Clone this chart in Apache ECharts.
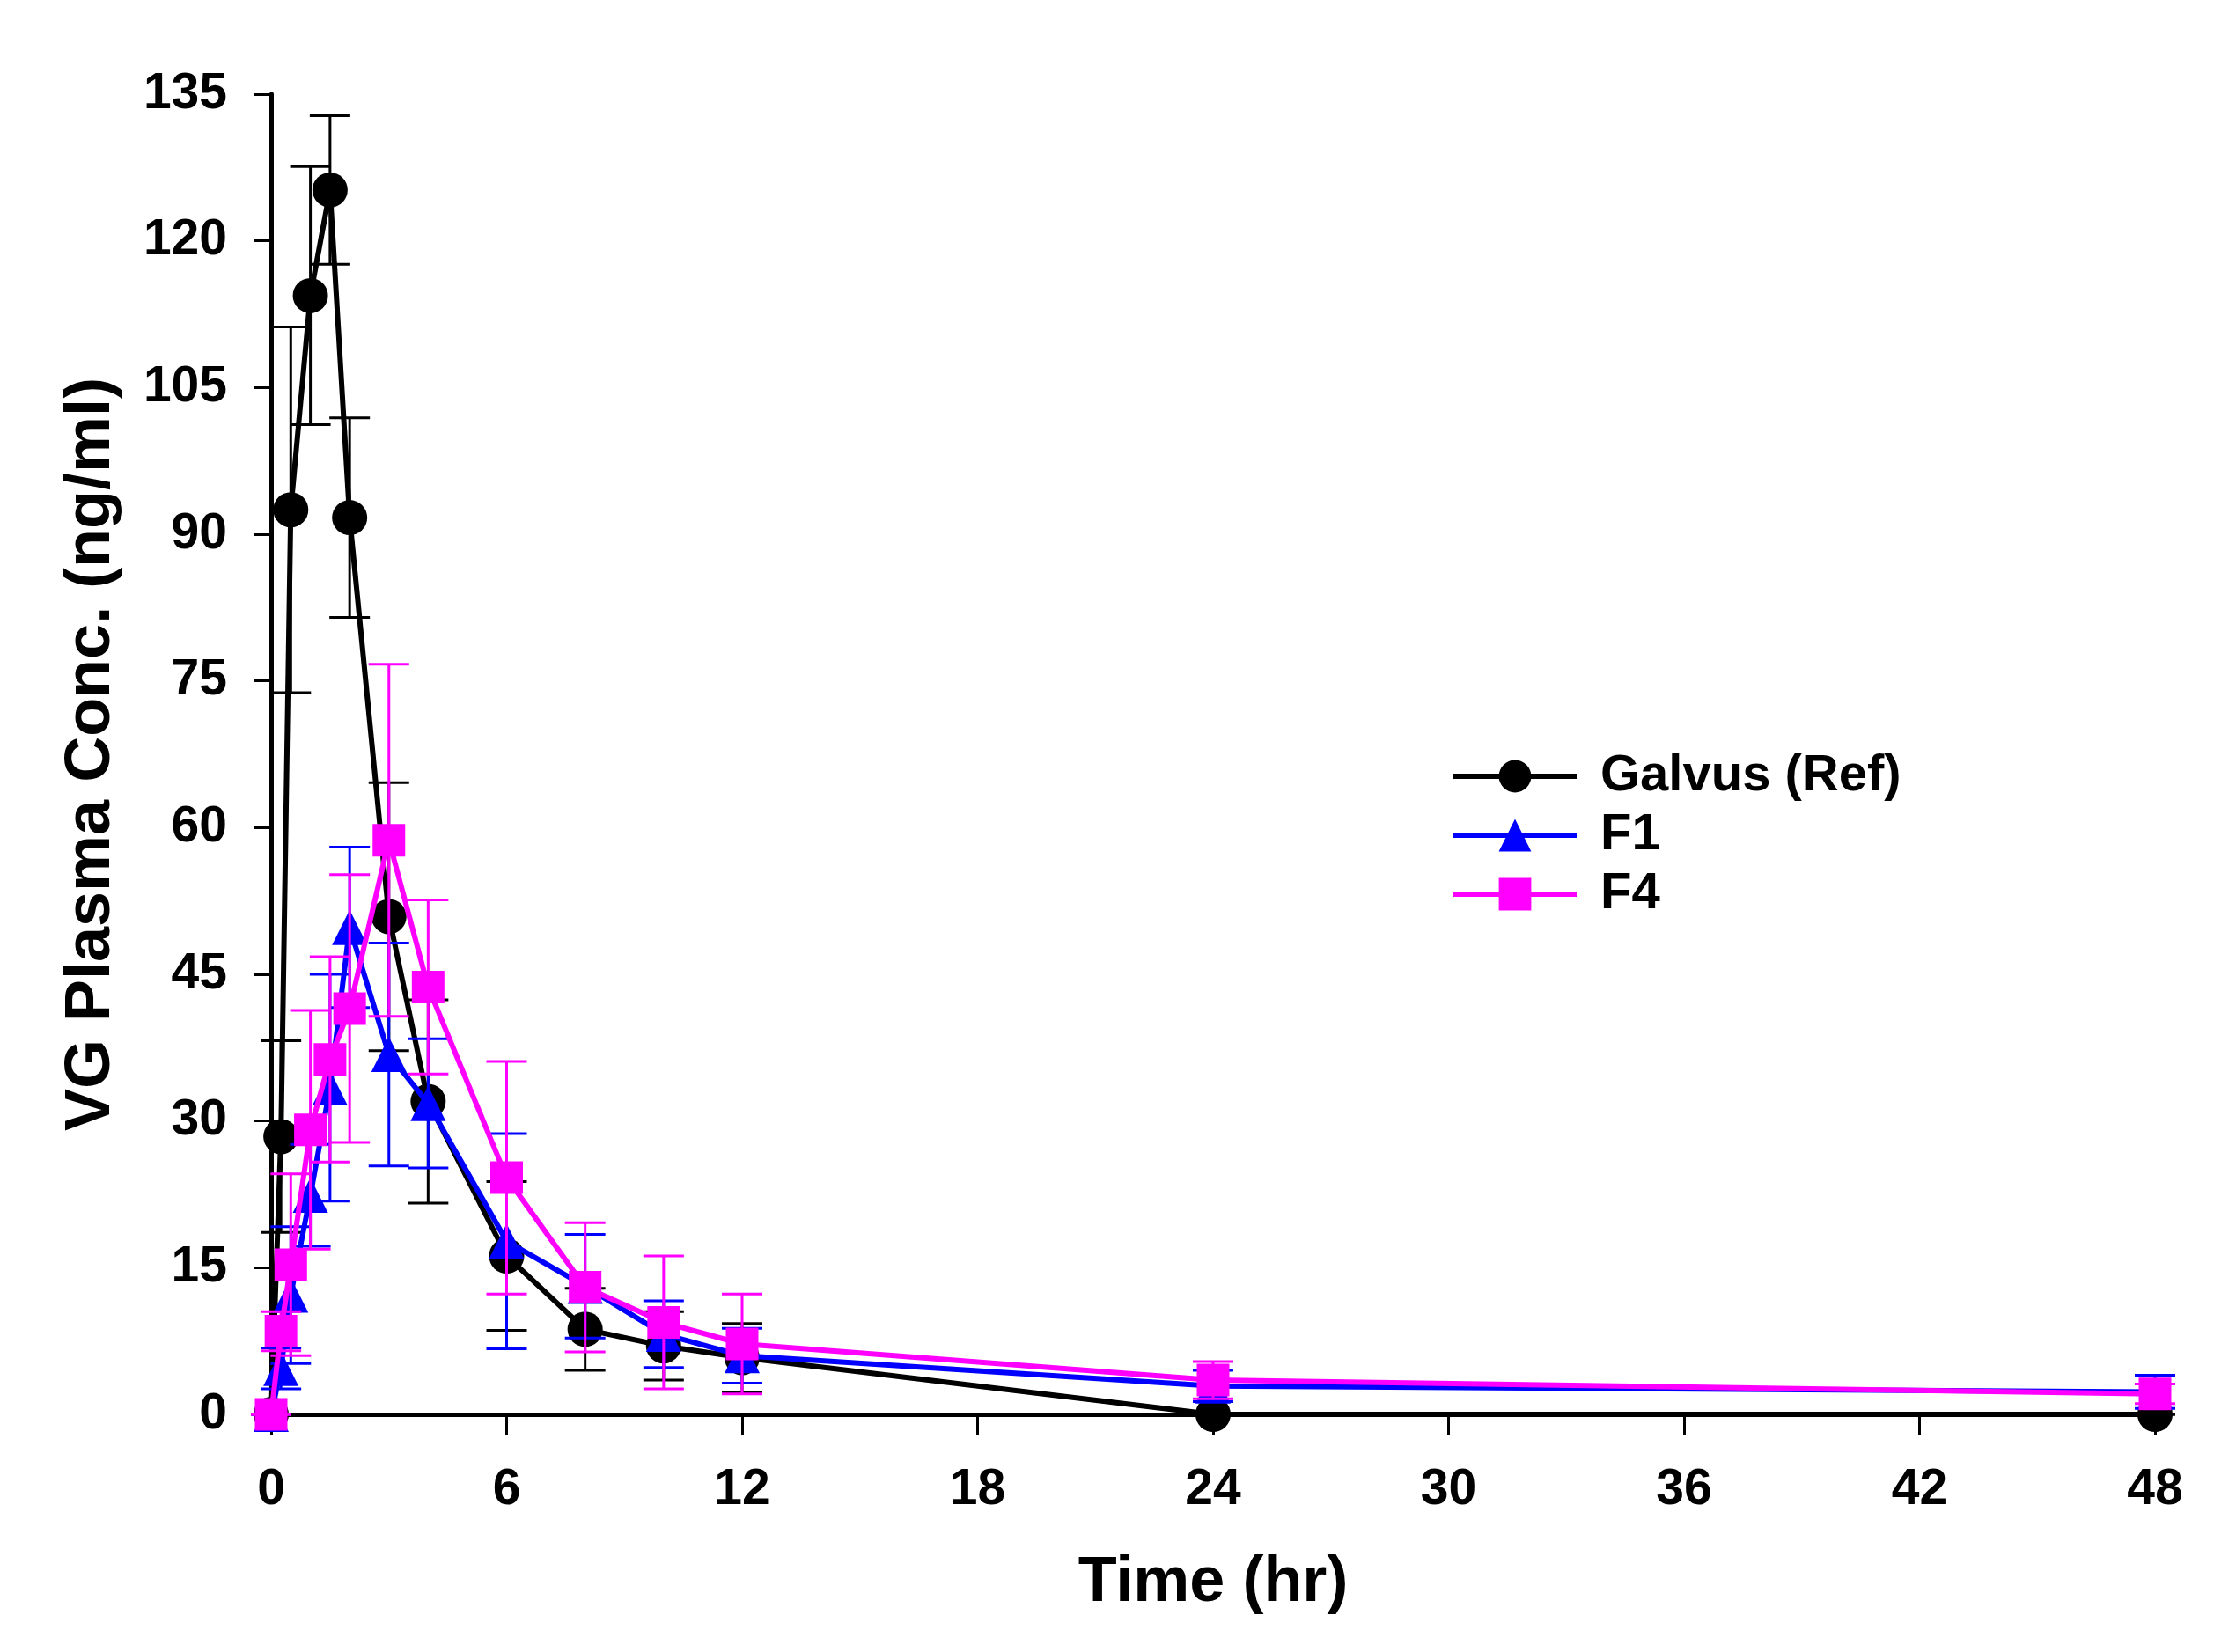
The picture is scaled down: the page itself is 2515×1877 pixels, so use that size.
<!DOCTYPE html>
<html>
<head>
<meta charset="utf-8">
<script src="https://cdn.jsdelivr.net/npm/echarts@6/dist/echarts.min.js"></script>
<style>
  html, body { margin: 0; padding: 0; background: #fff; }
  #chart { width: 2515px; height: 1877px; }
</style>
</head>
<body>
<div id="chart"></div>
<script>
// sampling times (hr)
var times = [0, 0.25, 0.5, 1, 1.5, 2, 3, 4, 6, 8, 10, 12, 24, 48];

// mean plasma conc. (ng/ml) and SD
var galvus   = [0, 28.4, 92.5, 114.4, 125.2, 91.7, 50.9, 32.0, 16.2, 8.7, 7.0, 5.8, 0, 0];
var galvusSd = [0, 9.8, 18.7, 13.2, 7.6, 10.2, 13.7, 10.4, 7.6, 4.2, 3.5, 3.5, 0, 0];
var f1       = [0, 4.7, 12.2, 22.4, 33.4, 49.8, 36.8, 31.8, 17.7, 13.1, 8.2, 6.0, 2.9, 2.3];
var f1Sd     = [0, 2.1, 7.0, 5.2, 11.6, 8.2, 11.4, 6.6, 11.0, 5.3, 3.4, 2.8, 1.6, 1.7];
var f4       = [0, 8.5, 15.3, 29.1, 36.3, 41.5, 58.7, 43.7, 24.2, 13.0, 9.4, 7.2, 3.5, 2.1];
var f4Sd     = [0, 2.0, 9.3, 12.2, 10.5, 13.7, 18.0, 8.9, 11.9, 6.6, 6.8, 5.1, 1.9, 1.0];

var seriesNames = ["Galvus (Ref)", "F1", "F4"];
var xTicks = [0, 48, 6];    // min, max, interval
var yTicks = [0, 135, 15];

var FONT = "'Liberation Sans', Arial, sans-serif";

function pairs(ys) {
  return times.map(function (t, i) { return [t, ys[i]]; });
}
function errData(ys, sd) {
  return times.map(function (t, i) { return [t, ys[i] - sd[i], ys[i] + sd[i]]; });
}

// SD bars drawn as a custom series (vertical stroke + two caps)
function errorBars(name, ys, sd, color, z) {
  return {
    name: name + " SD",
    type: "custom",
    z: z,
    clip: false,
    data: errData(ys, sd),
    encode: { x: 0, y: [1, 2] },
    renderItem: function (params, api) {
      var lo = api.coord([api.value(0), api.value(1)]);
      var hi = api.coord([api.value(0), api.value(2)]);
      var half = 23;
      var st = { stroke: color, lineWidth: 3 };
      return {
        type: "group",
        children: [
          { type: "line", shape: { x1: hi[0], y1: hi[1], x2: lo[0], y2: lo[1] }, style: st },
          { type: "line", shape: { x1: hi[0] - half, y1: hi[1], x2: hi[0] + half, y2: hi[1] }, style: st },
          { type: "line", shape: { x1: lo[0] - half, y1: lo[1], x2: lo[0] + half, y2: lo[1] }, style: st }
        ]
      };
    }
  };
}

function lineSeries(name, ys, color, symbol, size, z) {
  return {
    name: name,
    type: "line",
    z: z,
    data: pairs(ys),
    symbol: symbol,
    symbolSize: size,
    showAllSymbol: true,
    clip: false,
    lineStyle: { color: color, width: 6 },
    itemStyle: { color: color, opacity: 1 },
    emphasis: { disabled: true }
  };
}

var chart = echarts.init(document.getElementById("chart"), null, { renderer: "canvas" });

chart.setOption({
  animation: false,
  backgroundColor: "#ffffff",
  grid: { left: 308, right: 67, top: 107, bottom: 270, containLabel: false },
  legend: {
    data: seriesNames,
    orient: "vertical",
    left: 1643,
    top: 848,
    itemWidth: 140,
    itemHeight: 46,
    itemGap: 9,
    lineStyle: { width: 6 },
    textStyle: { fontFamily: FONT, fontWeight: "bold", fontSize: 58, color: "#000", padding: [0, 0, 0, 22] }
  },
  xAxis: {
    type: "value",
    min: xTicks[0],
    max: xTicks[1],
    interval: xTicks[2],
    name: "Time (hr)",
    nameLocation: "middle",
    nameGap: 156,
    nameTextStyle: { fontFamily: FONT, fontWeight: "bold", fontSize: 72, color: "#000" },
    axisLine: { show: true, onZero: false, lineStyle: { color: "#000", width: 5 } },
    axisTick: { show: true, inside: false, length: 23, lineStyle: { color: "#000", width: 3 } },
    axisLabel: { margin: 58, fontFamily: FONT, fontWeight: "bold", fontSize: 57, color: "#000" },
    splitLine: { show: false }
  },
  yAxis: {
    type: "value",
    min: yTicks[0],
    max: yTicks[1],
    interval: yTicks[2],
    name: "VG Plasma Conc. (ng/ml)",
    nameLocation: "middle",
    nameGap: 168,
    nameRotate: 90,
    nameTextStyle: { fontFamily: FONT, fontWeight: "bold", fontSize: 72, color: "#000" },
    axisLine: { show: true, lineStyle: { color: "#000", width: 5 } },
    axisTick: { show: true, inside: false, length: 20, lineStyle: { color: "#000", width: 3 } },
    axisLabel: { margin: 50, fontFamily: FONT, fontWeight: "bold", fontSize: 57, color: "#000" },
    splitLine: { show: false }
  },
  series: [
    errorBars(seriesNames[0], galvus, galvusSd, "#000000", 2),
    lineSeries(seriesNames[0], galvus, "#000000", "circle", 40, 3),
    errorBars(seriesNames[1], f1, f1Sd, "#0000ff", 4),
    lineSeries(seriesNames[1], f1, "#0000ff", "triangle", 40, 5),
    errorBars(seriesNames[2], f4, f4Sd, "#ff00ff", 6),
    lineSeries(seriesNames[2], f4, "#ff00ff", "rect", 37, 7)
  ]
});
</script>
</body>
</html>
